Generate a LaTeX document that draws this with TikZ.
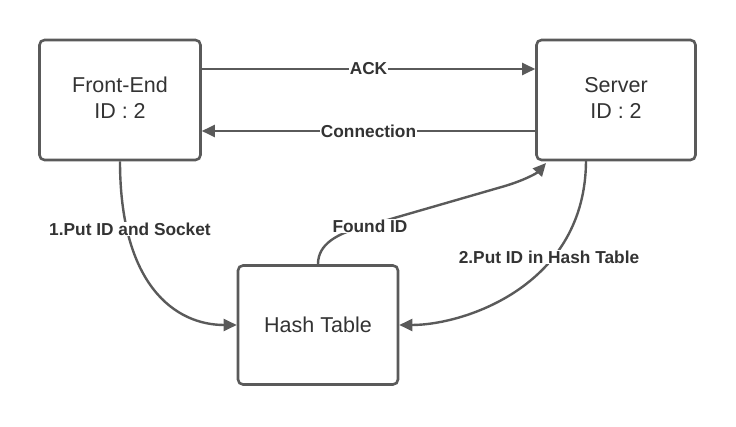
\documentclass[tikz,border=0pt]{standalone}
\usepackage{fontspec}
\setmainfont{Liberation Sans}
\usetikzlibrary{arrows.meta,calc}
\definecolor{ln}{HTML}{5A5A5A}
\definecolor{tx}{HTML}{333333}
\tikzset{
  box/.style={draw=ln, line width=2.6pt, rounded corners=5pt, fill=white,
    minimum width=#1, minimum height=120pt, inner sep=0pt, align=center,
    text=tx, font=\fontsize{21.5}{28}\selectfont},
  box/.default=160pt,
  conn/.style={draw=ln, line width=2.4pt, -{Triangle[length=13pt,width=12pt]}},
  lbl/.style={fill=white, inner sep=1pt, text=tx, font=\bfseries\fontsize{17.3}{20}\selectfont}
}
\begin{document}
\begin{tikzpicture}[x=1pt,y=-1pt]
\useasboundingbox (0,0) rectangle (736,427);
\node[box=161pt] (fe) at (120,100) {\raisebox{4pt}{\shortstack{Front-End\\[8pt]ID : 2}}};
\node[box=159pt] (srv) at (616,100) {\raisebox{4pt}{\shortstack{Server\\[8pt]ID : 2}}};
\node[box=160pt, minimum height=119pt] (ht) at (318,325) {Hash Table};
\coordinate (srvs) at (586,160);
\coordinate (fnd) at (546,163);
% horizontal
\draw[conn] ([yshift=31pt]fe.east) -- node[lbl] (ack) {ACK} ([yshift=31pt]srv.west);
\draw[conn] ([yshift=-31pt]srv.west) -- node[lbl] (cn) {Connection} ([yshift=-31pt]fe.east);
% curves
\draw[conn] (fe.south) .. controls (120,285) and (175,325) .. (ht.west);
\draw[conn] (srvs) .. controls (586,285) and (465,325) .. (ht.east);
\draw[conn] (ht.north) .. controls (318,245) and (335,233) .. (370,225) -- (505,186) .. controls (525,180) and (537,173) .. (fnd);
\node[lbl] (l1) at (130,229) {1.Put ID and Socket};
\node[lbl] (l2) at (549,257) {2.Put ID in Hash Table};
\node[lbl] (l3) at (370,226) {Found ID};
\end{tikzpicture}
\end{document}
